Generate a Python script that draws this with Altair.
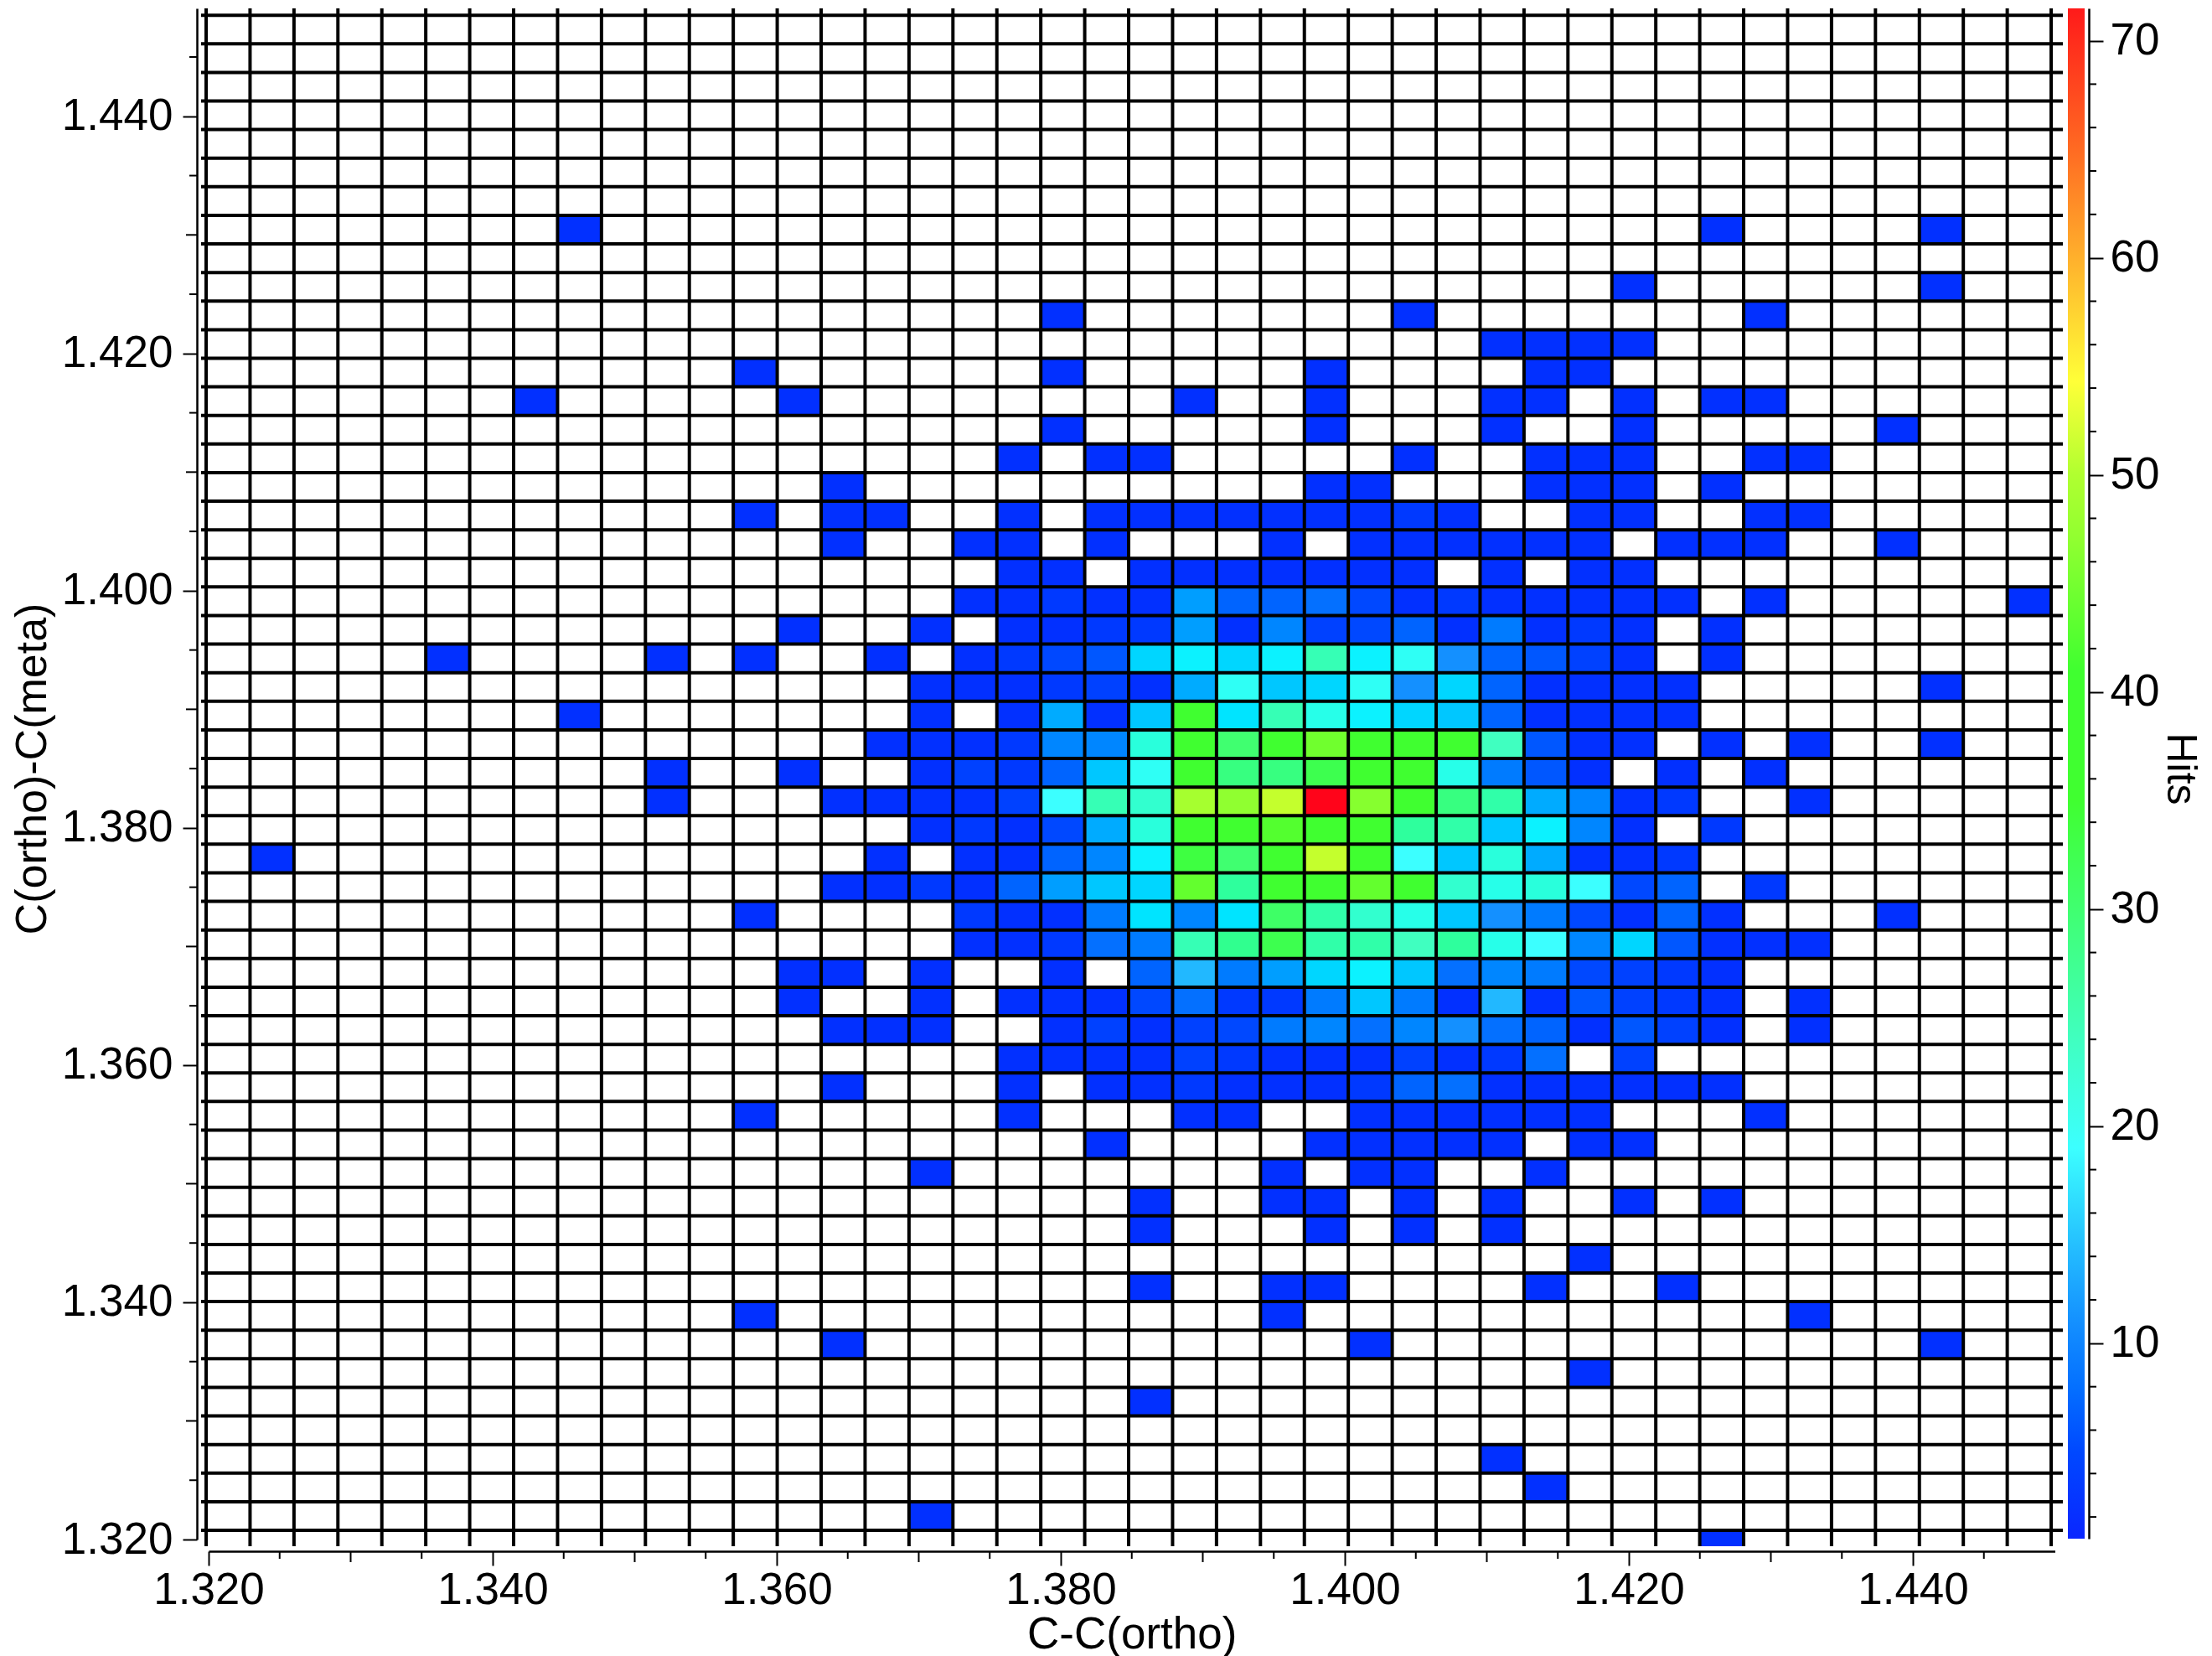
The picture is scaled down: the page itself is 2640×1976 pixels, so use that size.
import altair as alt
import pandas as pd

# Central block: columns 15..36, rows 16..36 (row 0 is the bottom row)
CORE_FIRST_COL = 15
ROW_36 = [2,0,0,2,0,2,2,2,2,2,2,2,3,2,0,0,2,2,0,0,2,2]
ROW_35 = [0,0,2,2,0,2,0,0,0,2,0,2,2,2,2,2,2,0,2,2,2,0]
ROW_34 = [0,0,0,2,2,0,2,2,2,2,2,2,2,0,2,0,2,2,0,0,0,0]
ROW_33 = [0,0,2,2,3,2,2,12,7,7,8,5,2,3,2,2,2,2,2,0,2,0]
ROW_32 = [0,2,0,2,2,3,3,12,2,10,4,5,7,2,9,2,3,2,0,2,0,0]
ROW_31 = [2,0,2,3,5,6,16,18,16,18,25,18,20,11,7,6,4,2,0,2,0,0]
ROW_30 = [0,2,2,2,3,4,2,13,20,15,16,20,11,16,7,2,2,2,2,0,0,0]
ROW_29 = [0,2,0,2,13,2,15,35,17,25,21,18,16,15,7,2,2,2,2,0,0,0]
ROW_28 = [2,2,2,3,10,10,22,40,30,35,44,35,36,36,24,6,2,2,0,2,0,2]
ROW_27 = [0,2,4,3,7,15,20,35,29,29,33,35,36,21,9,6,2,0,2,0,2,0]
ROW_26 = [2,2,2,4,19,25,23,49,47,51,72,46,37,29,26,13,10,2,3,0,0,2]
ROW_25 = [0,2,3,2,5,13,22,36,37,42,36,37,27,26,15,18,10,2,0,3,0,0]
ROW_24 = [2,0,2,2,7,10,18,34,30,36,51,36,19,15,22,13,2,2,3,0,0,0]
ROW_23 = [2,3,2,7,12,15,16,43,27,37,38,43,36,23,21,22,19,5,7,0,3,0]
ROW_22 = [0,0,3,2,2,9,17,10,17,31,26,23,21,15,11,9,5,2,7,2,0,0]
ROW_21 = [0,0,2,2,3,8,9,25,28,33,26,26,24,27,21,19,10,16,6,2,2,2]
ROW_20 = [0,2,0,0,2,0,7,14,9,12,16,18,15,8,10,9,5,4,3,2,0,0]
ROW_19 = [0,2,0,2,2,2,5,8,3,3,9,15,9,2,14,2,6,4,3,2,0,2]
ROW_18 = [2,2,0,0,2,4,2,4,5,9,10,8,10,11,8,7,2,6,4,2,0,2]
ROW_17 = [0,0,0,2,2,2,2,4,3,2,2,2,4,2,3,8,0,4,0,0,0,0]
ROW_16 = [0,0,0,2,0,2,2,3,2,2,2,3,7,8,2,2,2,2,2,2,0,0]
CORE = {36: ROW_36, 35: ROW_35, 34: ROW_34, 33: ROW_33, 32: ROW_32, 31: ROW_31, 30: ROW_30,
        29: ROW_29, 28: ROW_28, 27: ROW_27, 26: ROW_26, 25: ROW_25, 24: ROW_24, 23: ROW_23,
        22: ROW_22, 21: ROW_21, 20: ROW_20, 19: ROW_19, 18: ROW_18, 17: ROW_17, 16: ROW_16}

# Outlying cells: row -> occupied columns (low hit counts)
OUTER_HITS = 2
OUTER = {
    46: [8, 34, 39], 44: [32, 39], 43: [19, 27, 35], 42: [29, 30, 31, 32],
    41: [12, 19, 25, 30, 31], 40: [7, 13, 22, 25, 29, 30, 32, 34, 35],
    39: [19, 25, 29, 32, 38], 38: [18, 20, 21, 27, 30, 31, 32, 35, 36],
    37: [14, 25, 26, 30, 31, 32, 34], 36: [12, 14], 35: [14, 38], 33: [41], 32: [13],
    31: [5, 10, 12], 30: [39], 29: [8], 28: [39], 27: [10, 13], 26: [10, 14], 24: [1],
    23: [14], 22: [12, 38], 20: [13, 14], 19: [13], 18: [14], 16: [14],
    15: [12, 18, 22, 23, 26, 27, 28, 29, 30, 31, 35],
    14: [20, 25, 26, 27, 28, 29, 31, 32], 13: [16, 24, 26, 27, 30],
    12: [21, 24, 25, 27, 29, 32, 34], 11: [21, 25, 27, 29], 10: [31],
    9: [21, 24, 25, 30, 33], 8: [12, 24, 36], 7: [14, 26, 39], 6: [31], 5: [21],
    3: [29], 2: [30], 1: [16], 0: [34],
}

# Bin layout
X0, DX, NCOLS = 1.319823, 0.0030932, 42
Y0, DY, NROWS = 1.320777, 0.0024103, 54
Y_FLOOR = 1.31943

X_MAJOR = [1.32, 1.34, 1.36, 1.38, 1.40, 1.42, 1.44]
X_MID = [1.33, 1.35, 1.37, 1.39, 1.41, 1.43]
X_SHORT = [1.325, 1.335, 1.345, 1.355, 1.365, 1.375, 1.385, 1.395, 1.405, 1.415, 1.425, 1.435, 1.445]
Y_MAJOR = X_MAJOR
Y_MID = X_MID
Y_SHORT = X_SHORT
BAR_MAJOR = [10, 20, 30, 40, 50, 60, 70]
BAR_MINOR = [2, 4, 6, 8, 12, 14, 16, 18, 22, 24, 26, 28, 32, 34, 36, 38, 42, 44, 46, 48,
             52, 54, 56, 58, 62, 64, 66, 68]

COLOR_VALUES = [1, 5, 8, 11, 14, 19, 24, 30, 35, 41, 47, 50, 54.3, 60, 65, 71.49]
COLOR_STOPS = ["#0a26ff", "#0048ff", "#0470ff", "#1490ff", "#22b8ff", "#3cffff", "#40ffc0",
               "#40ff70", "#40ff30", "#40ff30", "#90ff30", "#b0ff30", "#ffff38", "#ffb02c",
               "#ff6a22", "#ff1a1a"]

FONT = "Liberation Sans"
W, H = 2227, 1841
LABEL_SIZE, TITLE_SIZE = 53, 52

x_scale = alt.Scale(domain=[1.32, 1.45], range=[14, 2217.5], nice=False, zero=False)
y_scale = alt.Scale(domain=[1.32, 1.4491], range=[H - 14, 0], nice=False, zero=False)


def y_edge(r):
    return Y_FLOOR if r < 0 else Y0 + DY * r


records = []
for r, vals in CORE.items():
    for i, v in enumerate(vals):
        if v:
            records.append((CORE_FIRST_COL + i, r, v))
for r, cols in OUTER.items():
    for c in cols:
        records.append((c, r, OUTER_HITS))
cells = pd.DataFrame(
    [{"x": X0 + DX * c, "x2": X0 + DX * (c + 1), "y": y_edge(r - 1), "y2": y_edge(r), "hits": v}
     for c, r, v in records]
)
v_lines = pd.DataFrame({"x": [X0 + DX * c for c in range(NCOLS + 1)]})
h_lines = pd.DataFrame({"y": [Y0 + DY * r for r in range(NROWS)]})

common_axis = dict(
    labelFont=FONT, labelFontSize=LABEL_SIZE, labelColor="black", labelOverlap=False,
    titleFont=FONT, titleFontSize=TITLE_SIZE, titleFontWeight="normal", titleColor="black",
    tickColor="black", tickWidth=2, tickSize=17, domainColor="black", domainWidth=2.5,
    grid=False, format=".3f",
)

cell_layer = alt.Chart(cells).mark_rect().encode(
    x=alt.X("x:Q", scale=x_scale, axis=alt.Axis(values=X_MAJOR, title="C-C(ortho)", labelPadding=3,
                                                titlePadding=0, labelFlush=False,
                                                **{**common_axis, "titleFontSize": 53})),
    x2="x2:Q",
    y=alt.Y("y:Q", scale=y_scale, axis=alt.Axis(values=Y_MAJOR, title="C(ortho)-C(meta)", labelPadding=12,
                                                titlePadding=8, labelFlush=False, titleY=907, **common_axis)),
    y2="y2:Q",
    color=alt.Color("hits:Q", scale=alt.Scale(domain=COLOR_VALUES, range=COLOR_STOPS), legend=None),
)

v_layer = alt.Chart(v_lines).mark_rule(color="black", strokeWidth=4).encode(
    x=alt.X("x:Q", scale=x_scale), y=alt.value(0), y2=alt.value(H - 6))
h_layer = alt.Chart(h_lines).mark_rule(color="black", strokeWidth=4).encode(
    y=alt.Y("y:Q", scale=y_scale), x=alt.value(5), x2=alt.value(W))


def x_ticks(vals, length):
    return alt.Chart(pd.DataFrame({"x": vals})).mark_rule(color="black", strokeWidth=2).encode(
        x=alt.X("x:Q", scale=x_scale), y=alt.value(H), y2=alt.value(H + length))


def y_ticks(vals, length):
    return alt.Chart(pd.DataFrame({"y": vals})).mark_rule(color="black", strokeWidth=2).encode(
        y=alt.Y("y:Q", scale=y_scale), x=alt.value(0), x2=alt.value(-length))


main = alt.layer(
    cell_layer, v_layer, h_layer,
    x_ticks(X_SHORT, 9), x_ticks(X_MID, 13), y_ticks(Y_SHORT, 9), y_ticks(Y_MID, 13),
).properties(width=W, height=H)

bar_top = 71.49
bar_scale = alt.Scale(domain=[1, bar_top], range=[H - 15, 0], nice=False, zero=False)
gradient = alt.Gradient(
    gradient="linear", x1=0, x2=0, y1=1, y2=0,
    stops=[alt.GradientStop(offset=(v - 1) / (bar_top - 1), color=c) for v, c in zip(COLOR_VALUES, COLOR_STOPS)],
)
bar_rect = alt.Chart(pd.DataFrame({"lo": [1], "hi": [bar_top]})).mark_rect(color=gradient).encode(
    y=alt.Y("lo:Q", scale=bar_scale, axis=alt.Axis(
        values=BAR_MAJOR, orient="right", title="Hits", labelPadding=8, titlePadding=0,
        titleY=907, **{**common_axis, "format": "d", "titleFontSize": 50})),
    y2="hi:Q",
    x=alt.value(0), x2=alt.value(20),
)
bar_ticks = alt.Chart(pd.DataFrame({"v": BAR_MINOR})).mark_rule(color="black", strokeWidth=2).encode(
    y=alt.Y("v:Q", scale=bar_scale), x=alt.value(25), x2=alt.value(34))
bar = alt.layer(bar_rect, bar_ticks).properties(width=25, height=H)

chart = alt.hconcat(main, bar, spacing=4).properties(
    padding={"left": 4, "top": 0, "right": 3, "bottom": 0},
    background="white",
).configure_view(stroke=None)

chart.save("out.html", embed_options={"renderer": "svg", "actions": False})
